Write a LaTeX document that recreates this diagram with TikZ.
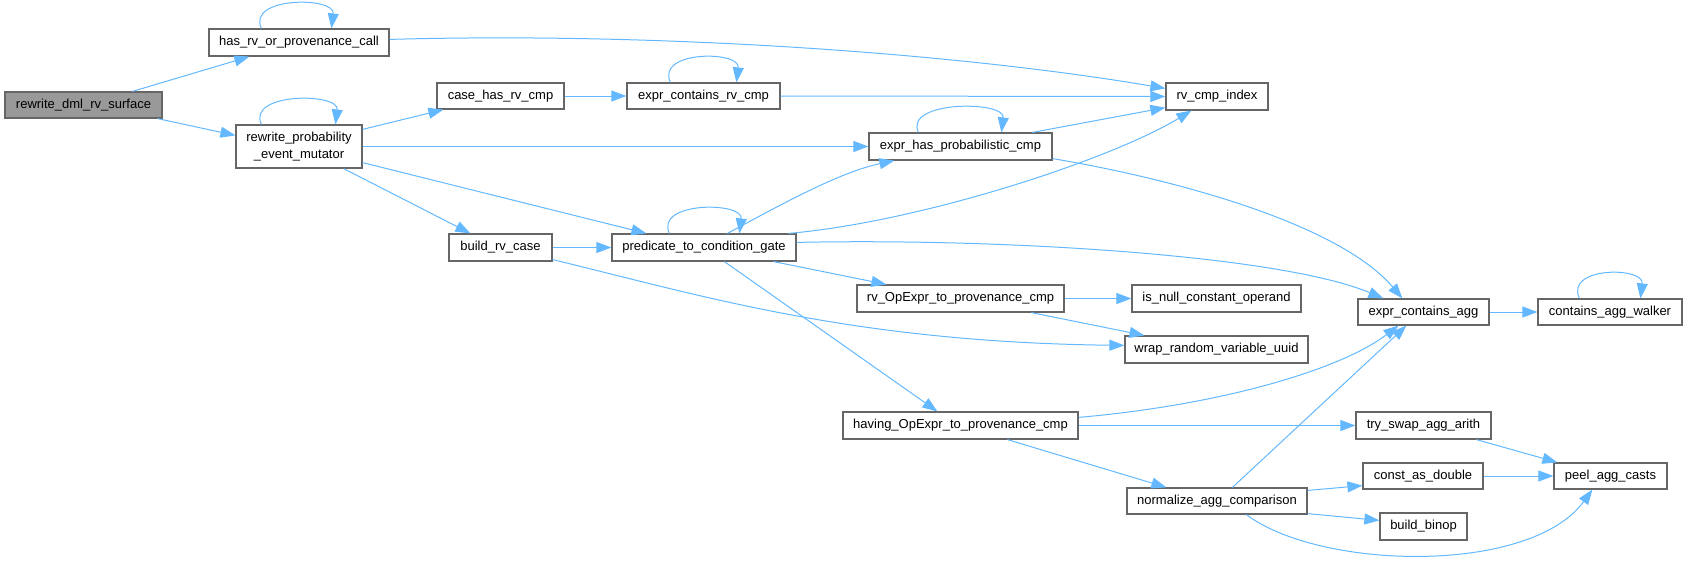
\documentclass[tikz,border=0pt]{standalone}
\usepackage{fontspec}
\setmainfont{Liberation Sans}
\usetikzlibrary{arrows.meta,calc}
\definecolor{edgeblue}{HTML}{63B8FF}
\definecolor{boxgray}{HTML}{666666}
\definecolor{rootfill}{HTML}{999999}
\tikzset{
  box/.style={draw=boxgray, line width=1.2pt, fill=white, inner sep=0pt, align=center,
    font=\fontsize{13}{16.5}\selectfont, text=black},
  edge/.style={draw=edgeblue, line width=1pt, -{Triangle[length=15pt,width=11pt]}},
}
\begin{document}
\begin{tikzpicture}[x=1pt,y=-1pt]
\useasboundingbox (0,0) rectangle (1687,566);
% nodes
\node[box, fill=rootfill, minimum width=157pt, minimum height=26pt] (dml) at (83.5,105) {rewrite\_dml\_rv\_surface};
\node[box, minimum width=180pt, minimum height=27pt] (hasrv) at (299,42.5) {has\_rv\_or\_provenance\_call};
\node[box, minimum width=126pt, minimum height=43pt] (rpem) at (299,146.5) {rewrite\_probability\\\_event\_mutator};
\node[box, minimum width=127pt, minimum height=26pt] (case) at (500.5,96) {case\_has\_rv\_cmp};
\node[box, minimum width=153pt, minimum height=26pt] (ecrc) at (703.5,96) {expr\_contains\_rv\_cmp};
\node[box, minimum width=102pt, minimum height=27pt] (rvci) at (1217,96.5) {rv\_cmp\_index};
\node[box, minimum width=183pt, minimum height=27pt] (ehpc) at (960.5,146.5) {expr\_has\_probabilistic\_cmp};
\node[box, minimum width=103pt, minimum height=27pt] (brc) at (500.5,247.5) {build\_rv\_case};
\node[box, minimum width=184pt, minimum height=27pt] (ptcg) at (704,247.5) {predicate\_to\_condition\_gate};
\node[box, minimum width=207pt, minimum height=27pt] (rvop) at (960.5,298.5) {rv\_OpExpr\_to\_provenance\_cmp};
\node[box, minimum width=169pt, minimum height=27pt] (isnull) at (1216.5,298.5) {is\_null\_constant\_operand};
\node[box, minimum width=183pt, minimum height=27pt] (wrap) at (1216.5,349.5) {wrap\_random\_variable\_uuid};
\node[box, minimum width=131pt, minimum height=26pt] (eca) at (1423.5,312) {expr\_contains\_agg};
\node[box, minimum width=144pt, minimum height=26pt] (caw) at (1610,312) {contains\_agg\_walker};
\node[box, minimum width=235pt, minimum height=27pt] (having) at (960.5,425.5) {having\_OpExpr\_to\_provenance\_cmp};
\node[box, minimum width=180pt, minimum height=26pt] (norm) at (1217,501) {normalize\_agg\_comparison};
\node[box, minimum width=135pt, minimum height=27pt] (try) at (1423.5,425.5) {try\_swap\_agg\_arith};
\node[box, minimum width=120pt, minimum height=26pt] (const) at (1423,476) {const\_as\_double};
\node[box, minimum width=113pt, minimum height=26pt] (peel) at (1610.5,476) {peel\_agg\_casts};
\node[box, minimum width=87pt, minimum height=27pt] (binop) at (1423.5,526.5) {build\_binop};
% edges
\draw[edge] ($(dml.north west)+(128,0)$) -- ($(hasrv.south west)+(41,0)$);
\draw[edge] ($(dml.south east)+(-5,0)$) -- ($(rpem.north west)+(0,11)$);
\draw[edge] ($(hasrv.north west)+(53,0)$) .. controls +(-15,-32) and +(4,-32) .. ($(hasrv.north west)+(123,0)$);
\draw[edge] ($(hasrv.north east)+(0,11)$) .. controls (650,32) and (950,52) .. ($(rvci.north west)+(0,6)$);
\draw[edge] ($(rpem.north west)+(26,0)$) .. controls +(-15,-32) and +(4,-32) .. ($(rpem.north west)+(100,0)$);
\draw[edge] ($(rpem.north east)+(0,5)$) -- ($(case.south west)+(7,0)$);
\draw[edge] (rpem.east) -- (ehpc.west);
\draw[edge] ($(rpem.south east)+(0,-6)$) -- ($(ptcg.north west)+(35,0)$);
\draw[edge] ($(rpem.south east)+(-19,0)$) -- ($(brc.north west)+(22,0)$);
\draw[edge] (case.east) -- (ecrc.west);
\draw[edge] ($(ecrc.north west)+(44,0)$) .. controls +(-15,-32) and +(4,-32) .. ($(ecrc.north west)+(110,0)$);
\draw[edge] (ecrc.east) -- (rvci.west);
\draw[edge] ($(ehpc.north west)+(50,0)$) .. controls +(-15,-32) and +(4,-32) .. ($(ehpc.north west)+(133,0)$);
\draw[edge] ($(ehpc.north west)+(164,0)$) -- ($(rvci.south west)+(0,-3)$);
\draw[edge] ($(ehpc.south east)+(0,-2)$) .. controls (1180,180) and (1340,225) .. ($(eca.north west)+(45,0)$);
\draw[edge] (brc.east) -- (ptcg.west);
\draw[edge] ($(brc.south east)+(0,-2)$) .. controls (700,295) and (850,342) .. ($(wrap.north west)+(0,10)$);
\draw[edge] ($(ptcg.north west)+(58,0)$) .. controls +(-15,-32) and +(4,-32) .. ($(ptcg.north west)+(128,0)$);
\draw[edge] ($(ptcg.north west)+(116,0)$) .. controls (780,205) and (840,172) .. ($(ehpc.south west)+(26,0)$);
\draw[edge] ($(ptcg.north east)+(-8,0)$) .. controls (920,222) and (1110,160) .. ($(rvci.south west)+(26,0)$);
\draw[edge] ($(ptcg.north east)+(0,9)$) .. controls (1000,238) and (1280,255) .. ($(eca.north west)+(26,0)$);
\draw[edge] ($(ptcg.south east)+(-23,0)$) -- ($(rvop.north west)+(30,0)$);
\draw[edge] ($(ptcg.south west)+(113,0)$) -- ($(having.north west)+(95,0)$);
\draw[edge] (rvop.east) -- (isnull.west);
\draw[edge] ($(rvop.south west)+(175,0)$) -- ($(wrap.north west)+(20,0)$);
\draw[edge] ($(having.north east)+(0,6)$) .. controls (1220,405) and (1340,370) .. ($(eca.south west)+(41,0)$);
\draw[edge] (having.east) -- (try.west);
\draw[edge] ($(having.south west)+(165,0)$) -- ($(norm.north west)+(40,0)$);
\draw[edge] ($(norm.north west)+(106,0)$) -- ($(eca.south west)+(49,0)$);
\draw[edge] ($(norm.north east)+(0,3)$) -- ($(const.south west)+(0,-4)$);
\draw[edge] ($(norm.south east)+(0,-1)$) -- ($(binop.north west)+(0,8)$);
\draw[edge] ($(norm.south west)+(120,0)$) .. controls (1320,570) and (1530,575) .. ($(peel.south west)+(39,0)$);
\draw[edge] ($(try.south west)+(121,0)$) -- ($(peel.north west)+(4,0)$);
\draw[edge] (const.east) -- (peel.west);
\draw[edge] (eca.east) -- (caw.west);
\draw[edge] ($(caw.north west)+(42,0)$) .. controls +(-15,-32) and +(4,-32) .. ($(caw.north west)+(103,0)$);
\end{tikzpicture}
\end{document}
